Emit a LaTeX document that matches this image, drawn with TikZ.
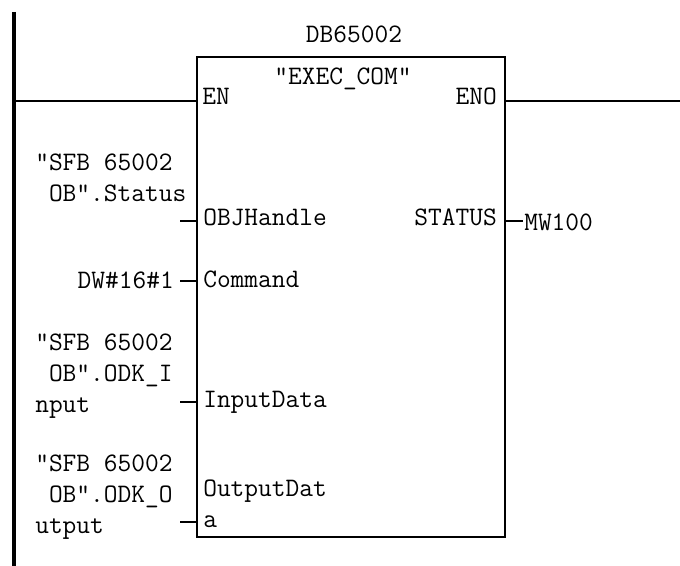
\documentclass[tikz,border=0pt]{standalone}
\usepackage{fontspec}
\usepackage{tikz}
\usetikzlibrary{positioning, calc}

\begin{document}
\begin{tikzpicture}[
    x=0.75pt, y=-0.75pt,
    fbbox/.style={draw, line width=1.3pt, minimum width=231pt, minimum height=360pt, inner sep=0pt},
    wire/.style={line width=1.2pt},
    bus/.style={line width=3pt},
    pinname/.style={inner sep=0pt, font=\ttfamily\fontsize{20pt}{23pt}\selectfont, anchor=base west},
    pinname right/.style={pinname, anchor=base east},
    operand/.style={pinname, align=left, anchor=north west},
]
    \useasboundingbox (0,0) rectangle (680,566);

    \node[fbbox] (fb) at (351,297) {};
    \node[pinname, anchor=base] (dbname) at (354,43) {DB65002};
    \node[pinname, anchor=base] (fbname) at (343,85) {"EXEC\_COM"};

    % rail and enable line
    \coordinate (railtop) at (14,12);
    \coordinate (railbot) at (14,566);
    \coordinate (enin) at (14,101);
    \coordinate (enout) at (680,101);
    \draw[bus] (railtop) -- (railbot);
    \draw[wire] (enin) -- (enin -| fb.west);
    \draw[wire] (enout -| fb.east) -- (enout);

    % pins of the block
    \node[pinname] (en) at (202,105) {EN};
    \node[pinname right] (eno) at (497,105) {ENO};
    \node[pinname] (objhandle) at (203,226) {OBJHandle};
    \node[pinname right] (status) at (497,226) {STATUS};
    \node[pinname] (command) at (203,287) {Command};
    \node[pinname] (inputdata) at (203,407) {InputData};
    \node[pinname, align=left, anchor=north west] (outputdata) at (203,480) {OutputDat\\a};

    % operands
    \node[operand] (statusop) at (35,154) {"SFB 65002\\\ OB".Status};
    \node[pinname right] (commandop) at (174,288) {DW\#16\#1};
    \node[operand] (inputop) at (35,334) {"SFB 65002\\\ OB".ODK\_I\\nput};
    \node[operand] (outputop) at (35,455) {"SFB 65002\\\ OB".ODK\_O\\utput};
    \node[pinname] (mw) at (524,230) {MW100};

    % pin stubs
    \coordinate (objstub) at (180,221);
    \coordinate (cmdstub) at (180,281);
    \coordinate (inpstub) at (180,402);
    \coordinate (outstub) at (180,522);
    \coordinate (statstub) at (523,221);
    \draw[wire] (objstub) -- (objstub -| fb.west);
    \draw[wire] (cmdstub) -- (cmdstub -| fb.west);
    \draw[wire] (inpstub) -- (inpstub -| fb.west);
    \draw[wire] (outstub) -- (outstub -| fb.west);
    \draw[wire] (statstub -| fb.east) -- (statstub);
\end{tikzpicture}
\end{document}
